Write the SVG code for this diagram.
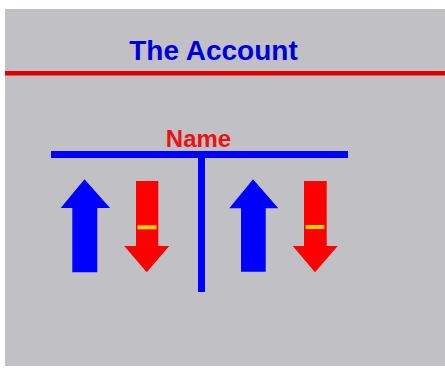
<svg xmlns="http://www.w3.org/2000/svg" width="445" height="368" viewBox="0 0 445 368">
<style>
.t{font-family:"Liberation Sans",Arial,sans-serif;font-weight:bold;text-anchor:middle}
.up{fill:#0000ff}
.dn{fill:#ff0000}
.bar{stroke:#ffd700;stroke-width:4}
</style>
<rect x="0" y="0" width="445" height="368" fill="#ffffff"/>
<rect x="5" y="9" width="440" height="357" fill="#c1c0c5"/>
<g id="title">
<text class="t" x="213.5" y="60" font-size="28" fill="#0000dd">The Account</text>
</g>
<g id="connectors">
<line x1="5" y1="73.3" x2="445" y2="73.3" stroke="#e00000" stroke-width="4.5"/>
<line x1="51" y1="154.5" x2="348" y2="154.5" stroke="#0000ff" stroke-width="7"/>
<line x1="201.5" y1="154" x2="201.5" y2="292" stroke="#0000ff" stroke-width="7"/>
</g>
<g id="name">
<text class="t" x="198.5" y="146.5" font-size="24" fill="#ee1111">Name</text>
</g>
<g id="debit-left">
<polygon class="up" points="84.5,179.3 110,208 97.3,208 97.3,272.3 72.3,272.3 72.3,208 60.7,208"/>
</g>
<g id="credit-left">
<polygon class="dn" points="136,181 158.3,181 158.3,246 169.3,246 146.7,272.3 124.3,246 136,246"/>
<line class="bar" x1="137.5" y1="227.3" x2="156.5" y2="227.3"/>
</g>
<g id="debit-right">
<polygon class="up" points="253,179.3 278.3,208.3 265.7,208.3 265.7,271.7 241,271.7 241,208.3 229.3,208.3"/>
</g>
<g id="credit-right">
<polygon class="dn" points="304,181 326.7,181 326.7,246 337.7,246 315,272.3 292.7,246 304,246"/>
<line class="bar" x1="305.7" y1="227" x2="324.3" y2="227"/>
</g>
</svg>
